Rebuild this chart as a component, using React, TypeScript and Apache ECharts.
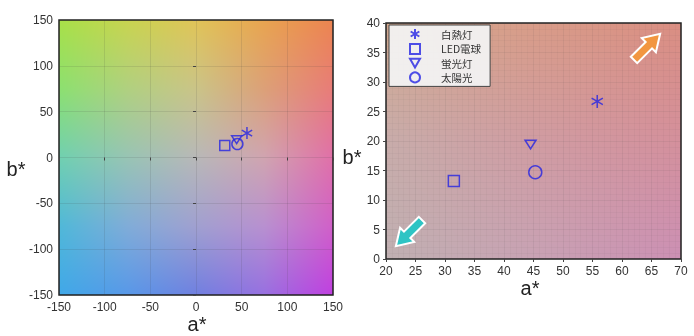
import React, { useEffect, useRef } from "react";
import * as echarts from "echarts";

const seriesNames = ["白熱灯", "LED電球", "蛍光灯", "太陽光"];
const aValues = [55.8, 31.5, 44.5, 45.3];
const bValues = [26.7, 13.2, 19.4, 14.7];

const leftTicks = [-150, -100, -50, 0, 50, 100, 150];
const rightXTicks = [20, 25, 30, 35, 40, 45, 50, 55, 60, 65, 70];
const rightYTicks = [0, 5, 10, 15, 20, 25, 30, 35, 40];

// background colour grids (rows top -> bottom)
const leftColors = [
  ["#a8e048", "#c8d450", "#e0c458", "#e8a450", "#ec8450"],
  ["#8ce070", "#b0d080", "#cac488", "#dca078", "#e87c78"],
  ["#70d0b0", "#98c4b4", "#b8b8b8", "#d0a4b0", "#e070a8"],
  ["#50b8d8", "#80acd8", "#a0a0d0", "#b890d0", "#d060c8"],
  ["#40a8e8", "#5898e8", "#7080e0", "#9870e0", "#c040e0"],
];
const rightColors = [
  ["#d2a88e", "#d89c88", "#da8e82"],
  ["#c8acaa", "#d09ca2", "#d4909c"],
  ["#c0b0b2", "#c8a2b4", "#cc90b4"],
];

const BLUE = "#2424e4";
const asteriskPath = "path://M5,0L5,10M0.67,2.5L9.33,7.5M0.67,7.5L9.33,2.5";
const triPath = "path://M0,0L10,0L5,8.7Z";
const symbols = [asteriskPath, "rect", triPath, "circle"];
const sizesRight = [13, 11, 11, 13];
const sizesLeft = [12, 10, 10, 11];

function hex(c: string) {
  return [1, 3, 5].map((i) => parseInt(c.slice(i, i + 2), 16));
}

function makeGradient(grid: string[][], w: number, h: number) {
  const cv = document.createElement("canvas");
  cv.width = w;
  cv.height = h;
  const ctx = cv.getContext("2d")!;
  const img = ctx.createImageData(w, h);
  const g = grid.map((r) => r.map(hex));
  const n = g.length - 1;
  const m = g[0].length - 1;
  for (let y = 0; y < h; y++) {
    const fy = (y / (h - 1)) * n;
    const r0 = Math.min(Math.floor(fy), n - 1);
    const ty = fy - r0;
    for (let x = 0; x < w; x++) {
      const fx = (x / (w - 1)) * m;
      const c0 = Math.min(Math.floor(fx), m - 1);
      const tx = fx - c0;
      const idx = (y * w + x) * 4;
      for (let k = 0; k < 3; k++) {
        const top = g[r0][c0][k] * (1 - tx) + g[r0][c0 + 1][k] * tx;
        const bot = g[r0 + 1][c0][k] * (1 - tx) + g[r0 + 1][c0 + 1][k] * tx;
        img.data[idx + k] = top * (1 - ty) + bot * ty;
      }
      img.data[idx + 3] = 255;
    }
  }
  ctx.putImageData(img, 0, 0);
  return cv.toDataURL();
}

export default function App() {
  const ref = useRef<HTMLDivElement>(null);
  useEffect(() => {
    if (!ref.current) return;
    const chart = echarts.init(ref.current, undefined, { renderer: "svg" });
    const leftImg = makeGradient(leftColors, 274, 275);
    const rightImg = makeGradient(rightColors, 295, 236);

    const bgSeries = (xi: number, url: string, ext: number[]) => ({
      type: "custom",
      xAxisIndex: xi,
      yAxisIndex: xi,
      silent: true,
      z: -5,
      clip: false,
      data: [[ext[0], ext[3]]],
      renderItem: (_p: any, api: any) => {
        const p0 = api.coord([ext[0], ext[3]]);
        const p1 = api.coord([ext[1], ext[2]]);
        return {
          type: "image",
          style: { image: url, x: p0[0], y: p0[1], width: p1[0] - p0[0], height: p1[1] - p0[1] },
        };
      },
    });

    const scatter = (i: number, gi: number) => ({
      type: "scatter",
      name: seriesNames[i],
      xAxisIndex: gi,
      yAxisIndex: gi,
      symbol: symbols[i],
      symbolSize: i === 2 ? [gi ? 11 : 10, gi ? 10 : 9] : gi ? sizesRight[i] : sizesLeft[i],
      symbolKeepAspect: true,
      itemStyle: { color: "rgba(0,0,0,0)", borderColor: BLUE, borderWidth: 1.5 },
      data: [[aValues[i], bValues[i]]],
      z: 5,
    });

    const labelStyle = { color: "#333", fontSize: 12, fontFamily: "Liberation Sans, Arial, sans-serif" };
    const mkAxis = (gi: number, min: number, max: number, interval: number, minor: boolean) => ({
      gridIndex: gi,
      type: "value",
      min,
      max,
      interval,
      axisLine: { show: false },
      axisTick: { show: true, length: 3, lineStyle: { color: "#444" } },
      axisLabel: { ...labelStyle, margin: 6 },
      splitLine: { show: true, lineStyle: { color: minor ? "rgba(60,60,60,0.08)" : "rgba(60,60,60,0.12)", width: 1 } },
      minorTick: { show: false, splitNumber: 5 },
      minorSplitLine: { show: minor, lineStyle: { color: "rgba(60,60,60,0.035)", width: 1 } },
    });

    const arrowPts = [
      [0, -4.5], [21, -4.5], [21, -10], [37, 0], [21, 10], [21, 4.5], [0, 4.5],
    ];
    const axisNameFont = { fontSize: 20, fontFamily: "Liberation Sans, Arial, sans-serif", fill: "#222", align: "center", verticalAlign: "middle" };

    chart.setOption({
      animation: false,
      grid: [
        { left: 59, top: 20, width: 274, height: 275, show: true, borderColor: "#222", borderWidth: 1.5, backgroundColor: "transparent" },
        { left: 386, top: 23, width: 295, height: 236, show: true, borderColor: "#222", borderWidth: 1.5, backgroundColor: "transparent" },
      ],
      xAxis: [
        mkAxis(0, leftTicks[0], leftTicks[leftTicks.length - 1], 50, false),
        mkAxis(1, rightXTicks[0], rightXTicks[rightXTicks.length - 1], 5, true),
      ],
      yAxis: [
        mkAxis(0, leftTicks[0], leftTicks[leftTicks.length - 1], 50, false),
        mkAxis(1, rightYTicks[0], rightYTicks[rightYTicks.length - 1], 5, true),
      ],
      legend: {
        data: seriesNames,
        orient: "vertical",
        left: 389,
        top: 25,
        itemWidth: 10,
        itemHeight: 10,
        itemGap: 2.9,
        padding: [3, 9, 3, 20],
        selectedMode: false,
        backgroundColor: "rgba(242,242,242,0.95)",
        borderColor: "#444",
        borderWidth: 1,
        borderRadius: 0,
        textStyle: { fontSize: 10.5, color: "#333", fontFamily: "Noto Sans CJK JP", padding: [0, 0, 0, 16] },
      },
      graphic: [
        { type: "text", x: 197, y: 324, style: { text: "a*", ...axisNameFont } },
        { type: "text", x: 16, y: 169, style: { text: "b*", ...axisNameFont } },
        { type: "text", x: 530, y: 288, style: { text: "a*", ...axisNameFont } },
        { type: "text", x: 352, y: 157, style: { text: "b*", ...axisNameFont } },
        {
          type: "polygon", x: 634, y: 60, rotation: Math.PI / 4, z: 10,
          shape: { points: arrowPts },
          style: { fill: "#f29640", stroke: "#ffffff", lineWidth: 2 },
        },
        {
          type: "polygon", x: 422, y: 220, rotation: (5 * Math.PI) / 4, z: 10,
          shape: { points: arrowPts },
          style: { fill: "#2ec4c4", stroke: "#ffffff", lineWidth: 2 },
        },
      ],
      series: [
        bgSeries(0, leftImg, [-150, 150, -150, 150]),
        bgSeries(1, rightImg, [20, 70, 0, 40]),
        ...[0, 1, 2, 3].map((i) => scatter(i, 0)),
        ...[0, 1, 2, 3].map((i) => scatter(i, 1)),
      ],
    });
    return () => chart.dispose();
  }, []);
  return <div ref={ref} style={{ position: "fixed", left: 0, top: 0, width: 694, height: 336 }} />;
}
